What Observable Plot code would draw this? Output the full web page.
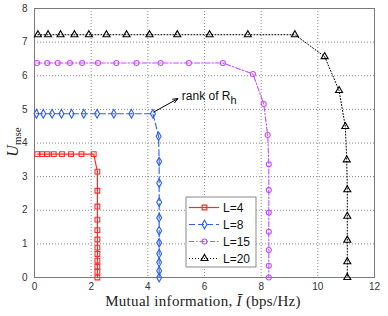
<!DOCTYPE html>
<html>
<head>
<meta charset="utf-8">
<script src="https://cdn.jsdelivr.net/npm/d3@7"></script>
<script src="https://cdn.jsdelivr.net/npm/@observablehq/plot@0.6"></script>
<style>
  html, body { margin: 0; padding: 0; background: #fff; }
  #chart { position: relative; width: 388px; height: 316px; }
</style>
</head>
<body>
<div id="chart"></div>
<script>
// ---- data ----
const xTicks = [0, 2, 4, 6, 8, 10, 12];
const yTicks = [0, 1, 2, 3, 4, 5, 6, 7, 8];
const seriesNames = ["L=4", "L=8", "L=15", "L=20"];

const L4x = [0.10, 0.27, 0.45, 0.68, 0.97, 1.29, 1.66, 2.09, 2.22, 2.22, 2.22, 2.22, 2.22, 2.22, 2.22, 2.22, 2.22, 2.22, 2.22, 2.22];
const L4y = [3.67, 3.67, 3.67, 3.67, 3.67, 3.67, 3.67, 3.67, 3.15, 2.58, 2.11, 1.72, 1.41, 1.13, 0.89, 0.70, 0.50, 0.32, 0.17, 0];

const L8x = [0.07, 0.31, 0.62, 0.95, 1.31, 1.74, 2.21, 2.80, 3.42, 4.18, 4.38, 4.40, 4.40, 4.40, 4.40, 4.40, 4.40, 4.40, 4.40, 4.40, 4.40];
const L8y = [4.87, 4.87, 4.87, 4.87, 4.87, 4.87, 4.87, 4.87, 4.87, 4.87, 4.20, 3.45, 2.81, 2.24, 1.78, 1.39, 1.03, 0.71, 0.45, 0.20, 0];

const L15x = [0.09, 0.45, 0.82, 1.25, 1.68, 2.24, 2.89, 3.60, 4.45, 5.45, 6.65, 7.71, 8.09, 8.23, 8.27, 8.27, 8.27, 8.27, 8.27, 8.27, 8.27];
const L15y = [6.38, 6.38, 6.38, 6.38, 6.38, 6.38, 6.38, 6.38, 6.38, 6.38, 6.38, 6.05, 5.16, 4.24, 3.37, 2.60, 1.93, 1.36, 0.82, 0.35, 0];

const L20x = [0.12, 0.48, 0.92, 1.41, 1.92, 2.54, 3.25, 4.06, 5.04, 6.18, 7.53, 9.19, 10.24, 10.75, 10.97, 11.02, 11.04, 11.04, 11.04, 11.04, 11.04];
const L20y = [7.22, 7.22, 7.22, 7.22, 7.22, 7.22, 7.22, 7.22, 7.22, 7.22, 7.22, 7.22, 6.57, 5.56, 4.49, 3.50, 2.61, 1.82, 1.11, 0.47, 0];

// annotation (arrow from corner of L=8 curve to label)
const annotArrow = [{x1: 4.21, y1: 4.92, x2: 5.06, y2: 5.32}];
const annotText = [{x: 5.2, y: 5.38, text: "rank of R"}];

// ---- styles ----
const styles = [
  {color: "#ff2a2a", dash: null, symbol: "square", r: 2.7, width: 1.2},
  {color: "#2f5ef5", dash: "6,3", symbol: "diamond", r: 2.6, width: 1.1},
  {color: "#c24dff", dash: "5,2,1.5,2", symbol: "circle", r: 2.5, width: 1.1},
  {color: "#000000", dash: "1,2", symbol: "triangle", r: 2.6, width: 1}
];
const xs = [L4x, L8x, L15x, L20x];
const ys = [L4y, L8y, L15y, L20y];
const series = seriesNames.map((name, i) => ({
  name, style: styles[i],
  rows: xs[i].map((x, j) => ({x, y: ys[i][j]}))
}));

const marks = [
  Plot.gridX(xTicks, {stroke: "#8a8a8a", strokeOpacity: 1, strokeDasharray: "1,2"}),
  Plot.gridY(yTicks, {stroke: "#8a8a8a", strokeOpacity: 1, strokeDasharray: "1,2"}),
  Plot.frame({stroke: "#7a7a7a"}),
  Plot.axisX(xTicks, {tickSize: 0, tickPadding: 5, label: null, fill: "#333"}),
  Plot.axisY(yTicks, {tickSize: 0, tickPadding: 7, label: null, fill: "#333"})
];
for (const s of series) {
  marks.push(Plot.line(s.rows, {x: "x", y: "y", stroke: s.style.color, strokeWidth: s.style.width, strokeDasharray: s.style.dash, curve: "linear"}));
  marks.push(Plot.dot(s.rows, {x: "x", y: "y", symbol: () => s.style.symbol, r: s.style.r, stroke: s.style.color, strokeWidth: 1.1, fill: "none"}));
}
marks.push(Plot.arrow(annotArrow, {x1: "x1", y1: "y1", x2: "x2", y2: "y2", stroke: "#000", strokeWidth: 1, headLength: 8, headAngle: 45, bend: 0}));
marks.push(Plot.text(annotText, {x: "x", y: "y", text: "text", textAnchor: "start", fontSize: 12, fill: "#111", className: "annot"}));

const chart = Plot.plot({
  width: 388, height: 316,
  marginLeft: 34, marginRight: 14, marginTop: 8, marginBottom: 39,
  x: {domain: [0, 12]},
  y: {domain: [0, 8]},
  style: {fontFamily: "'Liberation Sans', Arial, sans-serif", fontSize: "10px", background: "#fff", overflow: "visible"},
  marks
});
document.getElementById("chart").appendChild(chart);

const svg = d3.select(chart);
// subscript on annotation
svg.selectAll(".annot text").each(function() {
  const t = d3.select(this);
  t.append("tspan").attr("dy", "0.35em").attr("font-size", 11).text("h");
});

// axis labels
const serif = "'Liberation Serif', 'DejaVu Serif', serif";
const xl = svg.append("text").attr("x", 203).attr("y", 306).attr("text-anchor", "middle")
  .attr("font-family", serif).attr("font-size", 15).attr("letter-spacing", 0.3).attr("fill", "#222");
xl.append("tspan").text("Mutual information, ");
xl.append("tspan").attr("font-style", "italic").text("\u012A");
xl.append("tspan").text(" (bps/Hz)");

const yl = svg.append("text").attr("transform", "translate(18,142) rotate(-90)").attr("text-anchor", "middle")
  .attr("font-family", serif).attr("font-size", 16).attr("fill", "#222");
yl.append("tspan").attr("font-style", "italic").text("U");
yl.append("tspan").attr("font-size", 11).attr("dy", "0.3em").text("mse");

// legend
const lg = svg.append("g");
const lx = 186, ly = 197, lw = 70, lh = 70;
lg.append("rect").attr("x", lx).attr("y", ly).attr("width", lw).attr("height", lh)
  .attr("fill", "#fff").attr("stroke", "#8a8a8a").attr("stroke-width", 1);
const symGen = {square: d3.symbolSquare, diamond: d3.symbolDiamond, circle: d3.symbolCircle, triangle: d3.symbolTriangle};
series.forEach((s, i) => {
  const yy = ly + 10.5 + i * 17;
  lg.append("line").attr("x1", lx + 3).attr("x2", lx + 33).attr("y1", yy).attr("y2", yy)
    .attr("stroke", s.style.color).attr("stroke-width", s.style.width)
    .attr("stroke-dasharray", s.style.dash);
  lg.append("path").attr("transform", `translate(${lx + 18.5},${yy})`)
    .attr("d", d3.symbol(symGen[s.style.symbol], Math.PI * s.style.r * s.style.r)())
    .attr("fill", "none").attr("stroke", s.style.color).attr("stroke-width", 1.1);
  lg.append("text").attr("x", lx + 37).attr("y", yy).attr("dy", "0.36em")
    .attr("text-anchor", "start")
    .attr("font-size", 12).attr("fill", "#111").text(s.name);
});
</script>
</body>
</html>
